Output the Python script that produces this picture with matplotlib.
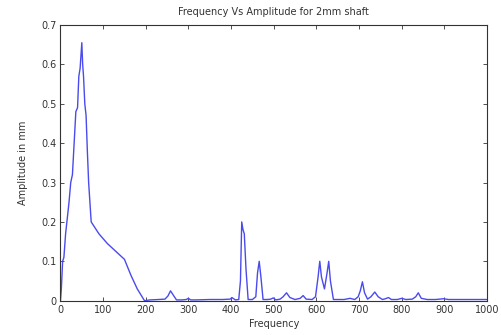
import numpy as np
import matplotlib.pyplot as plt

# spectrum of the 2mm shaft (frequency, amplitude in mm)
freq = [0, 2, 5, 8, 12, 16, 20, 24, 28, 32, 36, 40, 43, 46, 50, 52, 54, 57, 60,
        63, 66, 69, 72, 90, 110, 130, 145, 150, 165, 180, 197, 210, 230, 245,
        252, 258, 264, 272, 285, 295, 300, 305, 320, 350, 380, 398, 402, 410,
        418, 422, 425, 428, 431, 435, 440, 450, 458, 462, 466, 470, 475, 485,
        493, 499, 505, 515, 522, 530, 538, 550, 562, 569, 576, 590, 598, 604,
        608, 612, 619, 625, 629, 633, 640, 650, 665, 679, 690, 698, 703, 708,
        713, 720, 728, 737, 745, 755, 762, 769, 776, 790, 800, 810, 825, 833,
        839, 846, 860, 880, 898, 910, 950, 1000]
amp = [0.0, 0.03, 0.1, 0.11, 0.17, 0.21, 0.25, 0.3, 0.32, 0.4, 0.48, 0.49, 0.57,
       0.59, 0.655, 0.6, 0.57, 0.5, 0.47, 0.38, 0.3, 0.25, 0.2, 0.17, 0.145,
       0.125, 0.11, 0.105, 0.065, 0.03, 0.0, 0.002, 0.003, 0.004, 0.012, 0.025,
       0.015, 0.002, 0.002, 0.003, 0.006, 0.002, 0.002, 0.003, 0.003, 0.004,
       0.008, 0.002, 0.003, 0.05, 0.2, 0.18, 0.17, 0.08, 0.003, 0.003, 0.01,
       0.07, 0.1, 0.06, 0.003, 0.003, 0.004, 0.007, 0.002, 0.004, 0.01, 0.02,
       0.008, 0.003, 0.006, 0.013, 0.004, 0.003, 0.01, 0.06, 0.1, 0.06, 0.03,
       0.07, 0.1, 0.05, 0.003, 0.003, 0.003, 0.006, 0.003, 0.01, 0.025, 0.048,
       0.02, 0.004, 0.01, 0.022, 0.01, 0.003, 0.005, 0.008, 0.003, 0.003, 0.006,
       0.003, 0.004, 0.01, 0.02, 0.006, 0.003, 0.003, 0.005, 0.003, 0.003, 0.003]

xticks = np.arange(0, 1001, 100)
yticks = np.arange(0, 0.71, 0.1)

plt.rcParams['font.family'] = 'DejaVu Sans'
fig = plt.figure(figsize=(5.02, 3.35), dpi=100)
ax = fig.add_axes([0.1205, 0.1024, 0.8495, 0.823])
ax.plot(freq, amp, color='#4a4aee', lw=1.0)

ax.set_xlim(0, 1000)
ax.set_ylim(0, 0.7)
ax.set_xticks(xticks)
ax.set_yticks(yticks)
ax.set_xticklabels([str(v) for v in xticks])
ax.set_yticklabels(['0'] + ['%.1f' % v for v in yticks[1:]])
ax.tick_params(direction='in', top=True, right=True, length=3, width=0.6,
               labelsize=7, colors='#333333', pad=3)
for s in ax.spines.values():
    s.set_linewidth(0.8)
    s.set_color('#333333')

ax.set_title('Frequency Vs Amplitude for 2mm shaft', fontsize=7, color='#333333', pad=7)
ax.set_xlabel('Frequency', fontsize=7, color='#333333', labelpad=3)
ax.set_ylabel('Amplitude in mm', fontsize=7, color='#333333', labelpad=9)

fig.savefig('out.png', dpi=100)
